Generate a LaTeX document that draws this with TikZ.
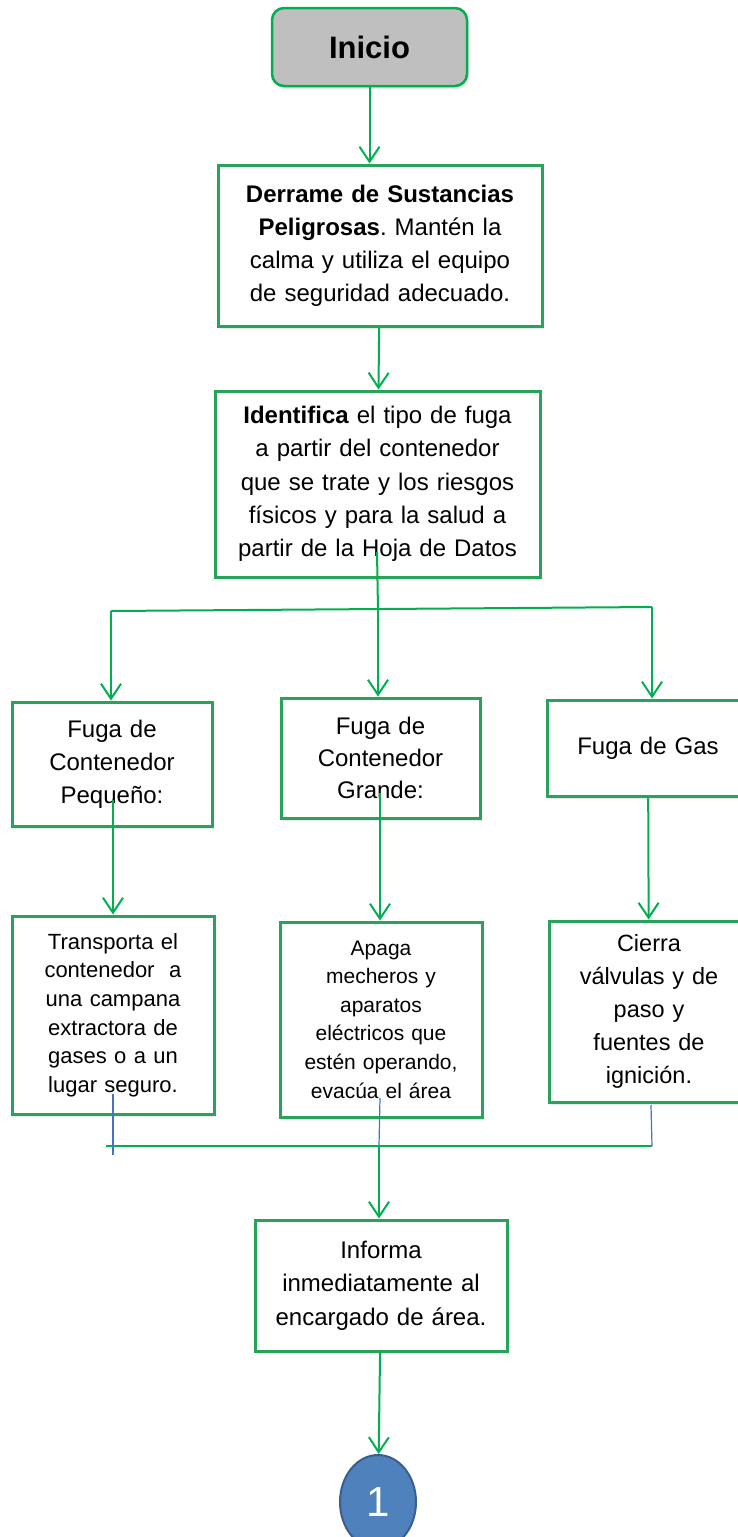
\documentclass[tikz,border=0pt]{standalone}
\usepackage{fontspec}
\setmainfont{Liberation Sans}
\usetikzlibrary{arrows.meta}
\usetikzlibrary{shapes.geometric}
\usetikzlibrary{shadows}
\definecolor{verde}{HTML}{00B050}
\definecolor{verdecaja}{HTML}{2AA35A}
\definecolor{gris}{HTML}{BFBFBF}
\definecolor{azul}{HTML}{4472C4}
\definecolor{relleno}{HTML}{4F81BD}
\definecolor{borde}{HTML}{3A5F8C}
\newcommand{\letra}[2]{\fontsize{#1}{#2}\selectfont}
\frenchspacing

\begin{document}
\begin{tikzpicture}[->,>={Straight Barb[length=15pt,width=20pt]},x=1pt,y=-1pt,
	every edge/.style={draw=verde,line width=2pt}]
	\tikzstyle{caja}=[draw=verdecaja,line width=3pt,fill=white,align=center,inner sep=0pt,
		drop shadow={opacity=0.18,shadow xshift=2pt,shadow yshift=-3pt}]
	\tikzstyle{ramal}=[-,draw=azul,line width=1.2pt]
	\tikzstyle{tronco}=[-,draw=verde,line width=2pt]
	\useasboundingbox (0,0) rectangle (738,1537);

	\node[caja,rounded corners=12pt,fill=gris,draw=verde,line width=2.5pt,minimum width=195pt,
		minimum height=78pt,font=\bfseries\letra{31}{36}] (inicio) at (369.5,47) {Inicio};
	\node[caja,minimum width=324pt,minimum height=161pt,text width=304pt,font=\letra{24}{33}]
		(derrame) at (380,245.5) {\textbf{Derrame de Sustancias}\\ \textbf{Peligrosas}. Mantén la\\
		calma y utiliza el equipo\\ de seguridad adecuado.};
	\node[caja,minimum width=325pt,minimum height=186pt,text width=305pt,font=\letra{24}{33.3}]
		(identifica) at (377.5,484) {\textbf{Identifica} el tipo de fuga\\ a partir del contenedor\\
		que se trate y los riesgos\\ físicos y para la salud a\\ partir de la Hoja de Datos};

	\node[caja,minimum width=200pt,minimum height=124pt,text width=180pt,font=\letra{24}{33}]
		(pequeno) at (112,764) {Fuga de\\ Contenedor\\ Pequeño:};
	\node[caja,minimum width=199pt,minimum height=120pt,text width=180pt,font=\letra{24}{32}]
		(grande) at (380.5,758) {Fuga de\\ Contenedor\\ Grande:};
	\node[caja,minimum width=202pt,minimum height=96pt,text width=182pt,font=\letra{24}{33}]
		(gas) at (648,748) {Fuga de Gas};

	\node[caja,minimum width=202pt,minimum height=198pt,text width=185pt,font=\letra{22}{28.6}]
		(transporta) at (113,1015) {Transporta el\\ contenedor~ a\\ una campana\\ extractora de\\
		gases o a un\\ lugar seguro.};
	\node[caja,minimum width=202pt,minimum height=195pt,text width=185pt,font=\letra{21}{28.6}]
		(apaga) at (381,1019.5) {Apaga\\ mecheros y\\ aparatos\\ eléctricos que\\ estén operando,\\
		evacúa el área};
	\node[caja,minimum width=200pt,minimum height=181pt,text width=180pt,font=\letra{23.5}{33.2}]
		(cierra) at (649,1011.5) {Cierra\\ válvulas y de\\ paso y\\ fuentes de\\ ignición.};

	\node[caja,minimum width=252pt,minimum height=131pt,text width=232pt,font=\letra{24}{33.5}]
		(informa) at (381,1285.5) {Informa\\ inmediatamente al\\ encargado de área.};
	\node[ellipse,draw=borde,fill=relleno,line width=2pt,minimum width=76pt,minimum height=94pt,
		inner sep=0pt,text=white,font=\letra{42}{48}] (uno) at (378,1502) {1};

	\coordinate (idSal) at (377,552);
	\coordinate (ramIzq) at (111,611);
	\coordinate (ramCen) at (378,610);
	\coordinate (ramDer) at (652,607);
	\coordinate (peqSal) at (113,800);
	\coordinate (graSal) at (380,793);
	\coordinate (traSal) at (113,1094);
	\coordinate (traFin) at (113,1155);
	\coordinate (apaSal) at (380,1098);
	\coordinate (cieSal) at (651,1105);
	\coordinate (junIzq) at (106,1146);
	\coordinate (junCen) at (379,1146);
	\coordinate (junDer) at (652,1146);

	\draw[tronco] (idSal) -- (ramCen);
	\draw[tronco] (ramIzq) -- (ramDer);
	\draw[tronco] (junIzq) -- (junDer);
	\draw[ramal] (traSal) -- (traFin);
	\draw[ramal] (apaSal) -- (junCen);
	\draw[ramal] (cieSal) -- (junDer);

	\path
		(inicio) edge (inicio.south |- derrame.north)
		(derrame) edge (identifica)
		(ramIzq) edge (ramIzq |- pequeno.north)
		(ramCen) edge (ramCen |- grande.north)
		(ramDer) edge (ramDer |- gas.north)
		(peqSal) edge (peqSal |- transporta.north)
		(graSal) edge (graSal |- apaga.north)
		(gas) edge (cierra)
		(junCen) edge (junCen |- informa.north)
		(informa) edge (uno)
	;
\end{tikzpicture}
\end{document}
